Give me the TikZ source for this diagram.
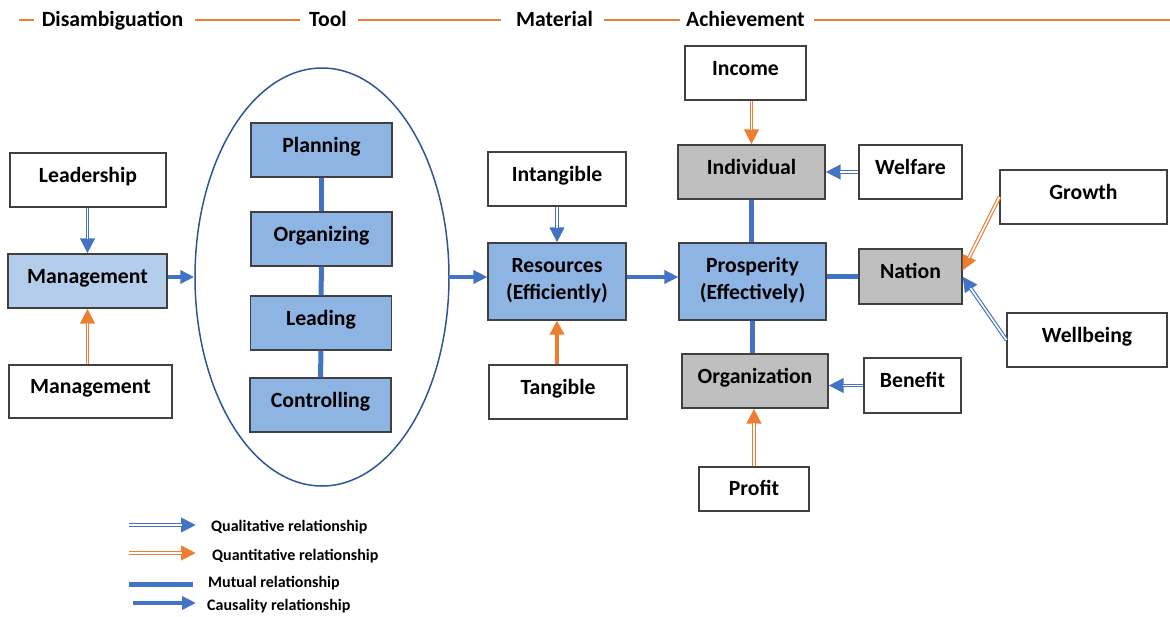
\documentclass[tikz,border=0pt]{standalone}
\usepackage{fontspec}
\setmainfont{Carlito}
\usetikzlibrary{arrows.meta,shapes.geometric}

\definecolor{cblue}{HTML}{4472C4}
\definecolor{corange}{HTML}{ED7D31}
\definecolor{boxblue}{HTML}{8EB4E3}
\definecolor{boxlight}{HTML}{B4CDEA}
\definecolor{boxgrey}{HTML}{BFBFBF}
\definecolor{edge}{HTML}{404040}
\definecolor{ringblue}{HTML}{2F5597}

\begin{document}
\begin{tikzpicture}[x=1pt,y=-1pt,
  box/.style={draw=edge, line width=1.1pt, fill=white, inner sep=2pt,
    font=\bfseries\fontsize{21.7}{26}\selectfont, text height=13.5pt, text depth=9.5pt},
  twoline/.style={text height=30.5pt, text depth=22.1pt},
  head/.style={font=\bfseries\fontsize{21.7}{26}\selectfont, anchor=base, inner sep=0pt},
  legend/.style={font=\bfseries\fontsize{16}{19}\selectfont, anchor=west, inner sep=0pt},
  hrule/.style={draw=corange, line width=2pt},
  causal/.style={draw=cblue, line width=3.6pt, -{Triangle[length=14pt,width=13pt]}},
  mutual/.style={draw=cblue, line width=5pt},
  quantsolid/.style={draw=corange, line width=3.6pt, -{Triangle[length=14pt,width=14pt]}},
  % double-lined arrow: a solid shaft with its head, then a hollow shaft laid over it
  dbl/.style={draw=#1, line width=3.6pt, -{Triangle[length=15pt,width=14pt]},
    postaction={draw=#1, -, line width=1pt, double=white, double distance=1.6pt,
      shorten >=14pt}},
  qual/.style={dbl=cblue},
  quant/.style={dbl=corange}
]
\useasboundingbox (0,0) rectangle (1170,616);

% header bar
\node[head] (hdis) at (112.5,26) {Disambiguation};
\node[head] (htool) at (328,26) {Tool};
\node[head] (hmat) at (554.5,26) {Material};
\node[head] (hach) at (745.5,26) {Achievement};
\draw[hrule] (19,19.5) -- (34,19.5);
\draw[hrule] (195,19.5) -- (300,19.5);
\draw[hrule] (358,19.5) -- (501,19.5);
\draw[hrule] (604,19.5) -- (680,19.5);
\draw[hrule] (814,19.5) -- (1170,19.5);

% disambiguation column
\node[box, minimum width=156, minimum height=54] (lead) at (88,180) {Leadership};
\node[box, fill=boxlight, minimum width=159, minimum height=54] (mgmt) at (87.5,281) {Management};
\node[box, minimum width=163, minimum height=53] (mgmt2) at (90.5,391.5) {Management};

% tool: the management functions
\node[draw=ringblue, line width=1.5pt, ellipse, inner sep=0pt,
  minimum width=254, minimum height=418] (ring) at (322,277) {};
\node[box, fill=boxblue, minimum width=141, minimum height=54] (plan) at (321.5,150) {Planning};
\node[box, fill=boxblue, minimum width=141, minimum height=54] (orgn) at (321.5,239) {Organizing};
\node[box, fill=boxblue, minimum width=141, minimum height=54] (leadg) at (321,323) {Leading};
\node[box, fill=boxblue, minimum width=141, minimum height=54] (ctrl) at (320.5,405) {Controlling};

% material
\node[box, minimum width=138, minimum height=54] (intang) at (557,179) {Intangible};
\node[box, twoline, fill=boxblue, minimum width=138, minimum height=77] (res) at (557,281.5)
  {\begin{tabular}{@{}c@{}}Resources\\[1pt](Efficiently)\end{tabular}};
\node[box, minimum width=138, minimum height=54] (tang) at (558,392) {Tangible};

% achievement
\node[box, minimum width=121, minimum height=54] (income) at (745.5,73) {Income};
\node[box, fill=boxgrey, minimum width=147, minimum height=54] (indiv) at (751.5,172) {Individual};
\node[box, minimum width=103, minimum height=54] (welf) at (910.5,172) {Welfare};
\node[box, minimum width=167, minimum height=54] (growth) at (1083.5,197) {Growth};
\node[box, twoline, fill=boxblue, minimum width=147, minimum height=77] (prosp) at (752.5,281.5)
  {\begin{tabular}{@{}c@{}}Prosperity\\[1pt](Effectively)\end{tabular}};
\node[box, fill=boxgrey, minimum width=103, minimum height=55] (nation) at (910.5,276.5) {Nation};
\node[box, minimum width=160, minimum height=54] (wellb) at (1087,340) {Wellbeing};
\node[box, fill=boxgrey, minimum width=146, minimum height=54] (orgz) at (755,381) {Organization};
\node[box, minimum width=97, minimum height=55] (benefit) at (912.5,385.5) {Benefit};
\node[box, text height=15pt, text depth=3pt, minimum width=110, minimum height=44] (profit) at (754,489) {Profit};

% connectors
\draw[qual] (lead.south -| mgmt.north) -- (mgmt.north);
\draw[quant] (mgmt2.north -| mgmt.south) -- (mgmt.south);
\draw[causal] (mgmt.east |- ring.west) -- (ring.west);
\draw[mutual] (plan.south) -- (orgn.north);
\draw[mutual] (orgn.south) -- (leadg.north);
\draw[mutual] (leadg.south) -- (ctrl.north);
\draw[causal] (ring.east) -- (res.west |- ring.east);
\draw[qual] (intang.south) -- (res.north);
\draw[quantsolid] (tang.north -| res.south) -- (res.south);
\draw[causal] (res.east |- ring.east) -- (prosp.west |- ring.east);
\draw[quant] (income.south -| indiv.north) -- (indiv.north);
\draw[qual] (welf.west) -- (indiv.east |- welf.west);
\draw[mutual] (indiv.south) -- (indiv.south |- prosp.north);
\draw[mutual] (prosp.east |- nation.west) -- (nation.west);
\draw[mutual] (prosp.south) -- (prosp.south |- orgz.north);
\draw[quant] (growth.west) -- ([yshift=6pt]nation.east);
\draw[qual] (wellb.west) -- (nation.east);
\draw[qual] (benefit.west) -- (orgz.east |- benefit.west);
\draw[quant] (profit.north) -- (profit.north |- orgz.south);

% legend
\coordinate (lq1) at (129,525);  \coordinate (lq2) at (196,525);
\coordinate (ln1) at (129,553);  \coordinate (ln2) at (196,553);
\coordinate (lm1) at (129,584);  \coordinate (lm2) at (193,584);
\coordinate (lc1) at (133,603);  \coordinate (lc2) at (196,603);
\draw[qual] (lq1) -- (lq2);
\draw[quant] (ln1) -- (ln2);
\draw[mutual] (lm1) -- (lm2);
\draw[causal] (lc1) -- (lc2);
\node[legend] (tq) at (211,527) {Qualitative relationship};
\node[legend] (tn) at (212,556) {Quantitative relationship};
\node[legend] (tm) at (208,583) {Mutual relationship};
\node[legend] (tc) at (207,606) {Causality relationship};
\end{tikzpicture}
\end{document}
